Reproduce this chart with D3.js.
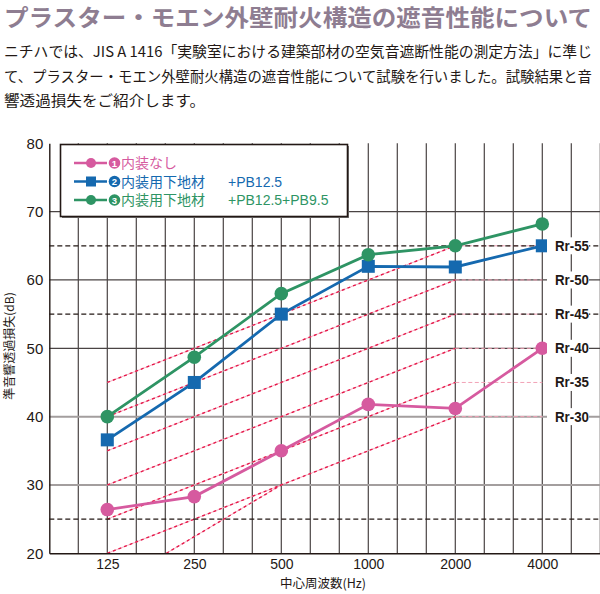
<!DOCTYPE html>
<html>
<head>
<meta charset="utf-8">
<script src="https://cdn.jsdelivr.net/npm/d3@7"></script>
<style>
  body { margin: 0; background: #fff; }
  svg { display: block; }
</style>
</head>
<body>
<svg id="chart" width="600" height="594"></svg>
<script>
// chart data
const freqs = [125, 250, 500, 1000, 2000, 4000];
const noInterior = [26.4, 28.3, 35.0, 41.8, 41.2, 50.0];
const withPB125 = [36.6, 45.0, 55.0, 62.0, 61.9, 65.0];
const withPB125PB95 = [40.0, 48.7, 58.0, 63.7, 65.0, 68.2];
const seriesNames = ["内装なし", "内装用下地材", "内装用下地材"];
const seriesSuffix = ["", "+PB12.5", "+PB12.5+PB9.5"];
const seriesNumbers = ["1", "2", "3"];
const yTicks = [20, 30, 40, 50, 60, 70, 80];
const bands = [100, 125, 160, 200, 250, 315, 400, 500, 630, 800, 1000, 1250, 1600, 2000, 2500, 3150, 4000, 5000, 6300];
const rrGrades = [30, 35, 40, 45, 50, 55];
const rrShape = [-10, -5, 0, 5, 10, 10];
const extraRrFreqs = [200, 500];
const extraRrValues = [20, 30];
const dashedLevels = [25, 55, 65];
const grayLevels = [30, 40];
const darkLevels = [50, 60, 70];

const colors = ["#d65a9f", "#1569af", "#2e9464"];
const ink = "#231815";

const svg = d3.select("#chart");

// exact 1/3 octave position of a nominal band
function band(f) {
  return 1000 * Math.pow(2, Math.round(3 * Math.log2(f / 1000)) / 3);
}

const x = d3.scaleLog().base(2)
  .domain([125 * Math.pow(2, -2 / 3), 4000 * Math.pow(2, 2 / 3)])
  .range([49.3, 600.3]);
const y = d3.scaleLinear().domain([20, 80]).range([553.3, 143.3]);

// title + intro
svg.append("text")
  .attr("x", 4).attr("y", 26)
  .attr("textLength", 588).attr("lengthAdjust", "spacingAndGlyphs")
  .style("font-family", "'Noto Sans CJK JP'")
  .style("font-weight", 700)
  .style("font-size", "23px")
  .style("fill", "#8e7d91")
  .text("プラスター・モエン外壁耐火構造の遮音性能について");

const intro = [
  ["ニチハでは、JIS A 1416「実験室における建築部材の空気音遮断性能の測定方法」に準じ", 588],
  ["て、プラスター・モエン外壁耐火構造の遮音性能について試験を行いました。試験結果と音", 588],
  ["響透過損失をご紹介します。", 201]
];
intro.forEach((l, i) => {
  svg.append("text")
    .attr("x", 4).attr("y", 57 + i * 24.5)
    .attr("textLength", l[1]).attr("lengthAdjust", "spacingAndGlyphs")
    .style("font-family", "'Noto Sans CJK JP'")
    .style("font-size", "14.5px")
    .style("fill", ink)
    .text(l[0]);
});

// grid
const grid = svg.append("g");
grid.selectAll(".vline")
  .data(bands)
  .join("line")
  .attr("x1", d => x(band(d))).attr("x2", d => x(band(d)))
  .attr("y1", y(80)).attr("y2", y(20))
  .attr("stroke", "#4a4444").attr("stroke-width", 1.2);

grid.selectAll(".gline")
  .data(grayLevels)
  .join("line")
  .attr("x1", x.range()[0]).attr("x2", 600)
  .attr("y1", d => y(d)).attr("y2", d => y(d))
  .attr("stroke", "#a39e9e").attr("stroke-width", 2);

grid.selectAll(".dline")
  .data(darkLevels)
  .join("line")
  .attr("x1", x.range()[0]).attr("x2", 600)
  .attr("y1", d => y(d)).attr("y2", d => y(d))
  .attr("stroke", "#4a4444").attr("stroke-width", 1.2);

// Rr curves
const rrLine = d3.line().x(d => x(d[0])).y(d => y(d[1]));
const rr = svg.append("g");
function rrSlope(pts) {
  rr.append("path").attr("d", rrLine(pts)).attr("fill", "none")
    .attr("stroke", "#f4a9bd").attr("stroke-width", 0.9);
  rr.append("path").attr("d", rrLine(pts)).attr("fill", "none")
    .attr("stroke", "#e6194b").attr("stroke-width", 1.4)
    .attr("stroke-dasharray", "3,3");
}
rrGrades.forEach(n => {
  const pts = freqs.map((f, i) => [f, n + rrShape[i]]);
  rrSlope(pts.slice(0, 5));
  rr.append("path").attr("d", rrLine(pts.slice(4))).attr("fill", "none")
    .attr("stroke", "#f2a2b6").attr("stroke-width", 1)
    .attr("stroke-dasharray", "4,2.5");
});
rrSlope(extraRrFreqs.map((f, i) => [f, extraRrValues[i]]));

// black dashed levels
svg.selectAll(".blk")
  .data(dashedLevels)
  .join("line")
  .attr("x1", x.range()[0]).attr("x2", 600)
  .attr("y1", d => y(d)).attr("y2", d => y(d))
  .attr("stroke", ink).attr("stroke-width", 1.2)
  .attr("stroke-dasharray", "5,3");

// axes
const yAxis = svg.append("g")
  .attr("transform", "translate(" + x.range()[0] + ",0)")
  .call(d3.axisLeft(y).tickValues(yTicks).tickSize(0).tickPadding(6).tickSizeOuter(0));
yAxis.select(".domain").attr("stroke", ink).attr("stroke-width", 1.4);
yAxis.selectAll("text")
  .style("font-family", "'Liberation Sans', Arial")
  .style("font-size", "15px").style("fill", ink);

const xAxis = svg.append("g")
  .attr("transform", "translate(0," + y(20) + ")")
  .call(d3.axisBottom(x).tickValues(freqs).tickFormat(d => d).tickSize(0).tickPadding(6).tickSizeOuter(0));
xAxis.select(".domain").attr("stroke", ink).attr("stroke-width", 1.4);
xAxis.selectAll("text")
  .style("font-family", "'Liberation Sans', Arial")
  .style("font-size", "14px").style("fill", ink);

svg.append("text")
  .attr("x", 323).attr("y", 588)
  .attr("text-anchor", "middle")
  .style("font-family", "'Noto Sans CJK JP'")
  .style("font-size", "12.5px").style("fill", ink)
  .text("中心周波数(Hz)");

svg.append("text")
  .attr("transform", "translate(8,346) rotate(-90)")
  .attr("text-anchor", "middle")
  .attr("dominant-baseline", "central")
  .style("font-family", "'Noto Sans CJK JP'")
  .style("font-size", "12px").style("fill", ink)
  .text("準音響透過損失(dB)");

// data series
const series = [noInterior, withPB125, withPB125PB95];
const line = d3.line().x((d, i) => x(freqs[i])).y(d => y(d));
series.forEach((s, k) => {
  const g = svg.append("g");
  g.append("path").attr("d", line(s)).attr("fill", "none")
    .attr("stroke", colors[k]).attr("stroke-width", 2.8);
  if (k === 1) {
    g.selectAll("rect").data(s).join("rect")
      .attr("x", (d, i) => x(freqs[i]) - 6.5).attr("y", d => y(d) - 6.5)
      .attr("width", 13).attr("height", 13)
      .attr("fill", colors[k]);
  } else {
    g.selectAll("circle").data(s).join("circle")
      .attr("cx", (d, i) => x(freqs[i])).attr("cy", d => y(d))
      .attr("r", 6.8).attr("fill", colors[k]);
  }
});

// Rr labels
const rrLab = svg.append("g");
rrGrades.forEach(n => {
  const ly = y(n + 10);
  rrLab.append("rect").attr("x", 547).attr("y", ly - 8.5)
    .attr("width", 42).attr("height", 17).attr("fill", "#fff");
  rrLab.append("text").attr("x", 555).attr("y", ly + 5)
    .attr("textLength", 34).attr("lengthAdjust", "spacingAndGlyphs")
    .style("font-family", "'Liberation Sans', Arial")
    .style("font-weight", 700).style("font-size", "14.5px")
    .style("fill", ink)
    .text("Rr-" + n);
});

// legend
const lg = svg.append("g");
lg.append("rect").attr("x", 62).attr("y", 146).attr("width", 287).attr("height", 72)
  .attr("fill", "#777");
lg.append("rect").attr("x", 60.5).attr("y", 144.5).attr("width", 287).attr("height", 72)
  .attr("fill", "#fff").attr("stroke", ink).attr("stroke-width", 1.6);
seriesNames.forEach((name, k) => {
  const ry = 163 + k * 18.5;
  lg.append("line").attr("x1", 74).attr("x2", 107).attr("y1", ry).attr("y2", ry)
    .attr("stroke", colors[k]).attr("stroke-width", 2.4);
  if (k === 1) {
    lg.append("rect").attr("x", 86).attr("y", ry - 5).attr("width", 10).attr("height", 10)
      .attr("fill", colors[k]);
  } else {
    lg.append("circle").attr("cx", 91).attr("cy", ry).attr("r", 5).attr("fill", colors[k]);
  }
  lg.append("circle").attr("cx", 114.5).attr("cy", ry).attr("r", 5.8).attr("fill", colors[k]);
  lg.append("text").attr("x", 114.5).attr("y", ry + 3.5)
    .attr("text-anchor", "middle")
    .style("font-family", "'Liberation Sans', Arial")
    .style("font-weight", 700).style("font-size", "9.5px").style("fill", "#fff")
    .text(seriesNumbers[k]);
  lg.append("text").attr("x", 121).attr("y", ry + 5)
    .style("font-family", "'Noto Sans CJK JP'")
    .style("font-size", "14px").style("fill", colors[k])
    .text(name);
  if (seriesSuffix[k]) {
    lg.append("text").attr("x", 228).attr("y", ry + 5)
      .style("font-family", "'Liberation Sans', Arial")
      .style("font-size", "14px").style("fill", colors[k])
      .text(seriesSuffix[k]);
  }
});
</script>
</body>
</html>
